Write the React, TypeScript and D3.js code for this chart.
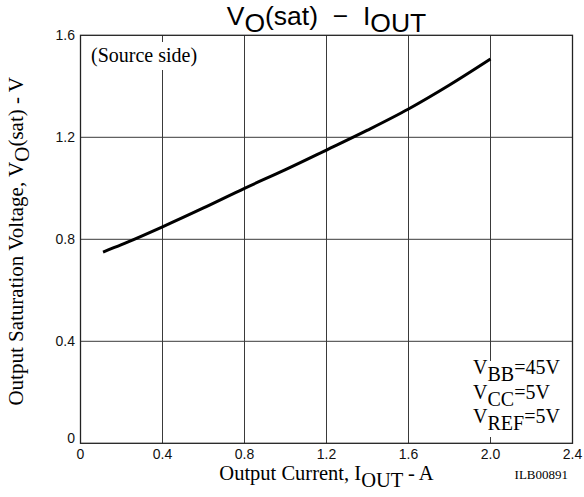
import React, { useEffect, useRef } from 'react';
import * as d3 from 'd3';

// curve (source side)
const currentA = [0.11, 0.2, 0.4, 0.6, 0.8, 1.0, 1.2, 1.4, 1.6, 1.8, 2.0];
const vSat = [0.75, 0.779, 0.849, 0.923, 1.0, 1.073, 1.15, 1.228, 1.311, 1.405, 1.507];

const xTicks = [0, 0.4, 0.8, 1.2, 1.6, 2.0, 2.4];
const xTickLabels = ['0', '0.4', '0.8', '1.2', '1.6', '2.0', '2.4'];
const yTicks = [0, 0.4, 0.8, 1.2, 1.6];
const yTickLabels = ['0', '0.4', '0.8', '1.2', '1.6'];

const conditions = [
  { name: 'V', sub: 'BB', value: '=45V' },
  { name: 'V', sub: 'CC', value: '=5V' },
  { name: 'V', sub: 'REF', value: '=5V' },
];

const W = 584;
const H = 497;
const SANS = '"Liberation Sans", Arial, sans-serif';
const SERIF = '"Liberation Serif", "Times New Roman", serif';

const App: React.FC = () => {
  const svgRef = useRef<SVGSVGElement>(null);

  useEffect(() => {
    if (!svgRef.current) return;
    const svg = d3.select(svgRef.current);
    svg.selectAll('*').remove();

    const x = d3.scaleLinear().domain([0, 2.4]).range([80.5, 572.5]);
    const y = d3.scaleLinear().domain([0, 1.6]).range([443.3, 35.3]);

    svg.append('rect').attr('width', W).attr('height', H).attr('fill', '#fff');

    // grid
    const grid = svg.append('g').attr('stroke', '#3a3a3a').attr('stroke-width', 1);
    grid.selectAll('line.v')
      .data(xTicks.slice(1, -1))
      .enter()
      .append('line')
      .attr('x1', d => x(d)).attr('x2', d => x(d))
      .attr('y1', y(0)).attr('y2', y(1.6));
    grid.selectAll('line.h')
      .data(yTicks.slice(1, -1))
      .enter()
      .append('line')
      .attr('class', 'h')
      .attr('x1', x(0)).attr('x2', x(2.4))
      .attr('y1', d => y(d)).attr('y2', d => y(d));

    // white boxes behind the annotations (they cut the grid)
    svg.append('rect')
      .attr('x', 88).attr('y', 42).attr('width', 118).attr('height', 28)
      .attr('fill', '#fff');
    svg.append('rect')
      .attr('x', 468).attr('y', 361).attr('width', 100).attr('height', 76)
      .attr('fill', '#fff');

    // frame
    svg.append('rect')
      .attr('x', x(0)).attr('y', y(1.6))
      .attr('width', x(2.4) - x(0)).attr('height', y(0) - y(1.6))
      .attr('fill', 'none').attr('stroke', '#222').attr('stroke-width', 1.3);

    // curve
    const line = d3.line<number>()
      .x((_, i) => x(currentA[i]))
      .y(d => y(d))
      .curve(d3.curveMonotoneX);
    svg.append('path')
      .datum(vSat)
      .attr('d', line)
      .attr('fill', 'none')
      .attr('stroke', '#000')
      .attr('stroke-width', 3);

    // tick labels
    svg.selectAll('text.xt')
      .data(xTicks)
      .enter()
      .append('text')
      .attr('class', 'xt')
      .attr('x', d => x(d))
      .attr('y', 459)
      .attr('text-anchor', 'middle')
      .attr('font-family', SANS)
      .attr('font-size', 14)
      .attr('fill', '#111')
      .text((_, i) => xTickLabels[i]);
    svg.selectAll('text.yt')
      .data(yTicks)
      .enter()
      .append('text')
      .attr('class', 'yt')
      .attr('x', 75)
      .attr('y', d => y(d) + (d === 0 ? 0 : 5))
      .attr('text-anchor', 'end')
      .attr('font-family', SANS)
      .attr('font-size', 14)
      .attr('fill', '#111')
      .text((_, i) => yTickLabels[i]);

    // title
    const title = svg.append('text')
      .attr('x', (x(0) + x(2.4)) / 2)
      .attr('y', 25)
      .attr('text-anchor', 'middle')
      .attr('font-family', SANS)
      .attr('font-size', 26.5)
      .attr('fill', '#000');
    title.append('tspan').text('V');
    title.append('tspan').attr('dy', 7).text('O');
    title.append('tspan').attr('dy', -7).text('(sat)\u00a0\u00a0\u2212\u00a0\u00a0I');
    title.append('tspan').attr('dy', 7).text('OUT');

    // x axis title
    const xt = svg.append('text')
      .attr('x', (x(0) + x(2.4)) / 2)
      .attr('y', 480)
      .attr('text-anchor', 'middle')
      .attr('font-family', SERIF)
      .attr('font-size', 20.5)
      .attr('fill', '#000');
    xt.append('tspan').text('Output Current, I');
    xt.append('tspan').attr('dy', 7).text('OUT');
    xt.append('tspan').attr('dy', -7).text(' - A');

    svg.append('text')
      .attr('x', 568).attr('y', 479)
      .attr('text-anchor', 'end')
      .attr('font-family', SERIF)
      .attr('font-size', 13)
      .attr('fill', '#000')
      .text('ILB00891');

    // y axis title
    const yt = svg.append('text')
      .attr('transform', `translate(23, ${(y(0) + y(1.6)) / 2 + 2}) rotate(-90)`)
      .attr('text-anchor', 'middle')
      .attr('font-family', SERIF)
      .attr('font-size', 21)
      .attr('fill', '#000');
    yt.append('tspan').text('Output Saturation Voltage, V');
    yt.append('tspan').attr('dy', 6).text('O');
    yt.append('tspan').attr('dy', -6).text('(sat) - V');

    // annotations
    svg.append('text')
      .attr('x', 91).attr('y', 62)
      .attr('font-family', SERIF)
      .attr('font-size', 20)
      .attr('fill', '#000')
      .text('(Source side)');

    conditions.forEach((c, i) => {
      const t = svg.append('text')
        .attr('x', 473)
        .attr('y', 374 + i * 24.5)
        .attr('font-family', SERIF)
        .attr('font-size', 20)
        .attr('fill', '#000');
      t.append('tspan').text(c.name);
      t.append('tspan').attr('dy', 7).text(c.sub);
      t.append('tspan').attr('dy', -7).text(c.value);
    });
  }, []);

  return (
    <svg
      ref={svgRef}
      width={W}
      height={H}
      style={{ position: 'absolute', left: 0, top: 0, display: 'block' }}
    />
  );
};

export default App;
